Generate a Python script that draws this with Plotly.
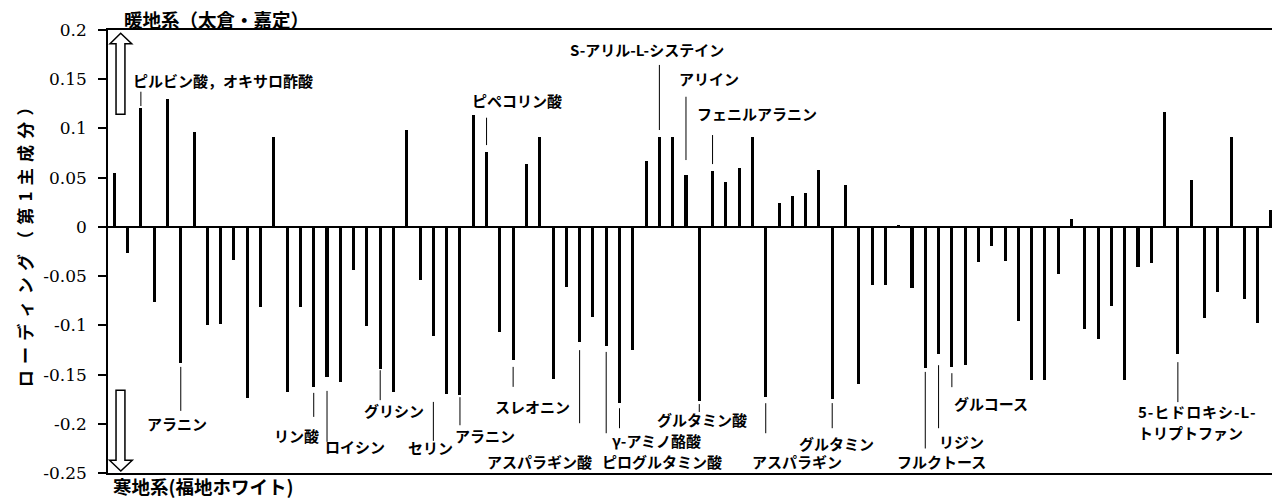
import plotly.graph_objects as go

# First principal component loadings, one bar per detected peak (left to right)
loadings = [
    0.055, -0.027, 0.121, -0.076, 0.130, -0.138, 0.096, -0.100, -0.099, -0.034,
    -0.174, -0.081, 0.091, -0.168, -0.081, -0.163, -0.152, -0.158, -0.044, -0.101,
    -0.144, -0.168, 0.098, -0.054, -0.111, -0.170, -0.171, 0.114, 0.076, -0.107,
    -0.135, 0.064, 0.091, -0.155, -0.061, -0.117, -0.092, -0.121, -0.179, -0.125,
    0.067, 0.091, 0.091, 0.053, -0.177, 0.057, 0.046, 0.060, 0.091, -0.173,
    0.024, 0.031, 0.034, 0.058, -0.175, 0.043, -0.160, -0.059, -0.059, 0.001,
    -0.062, -0.143, -0.129, -0.142, -0.140, -0.036, -0.019, -0.035, -0.096, -0.156,
    -0.156, -0.048, 0.008, -0.104, -0.114, -0.080, -0.156, -0.041, -0.037, 0.117,
    -0.129, 0.048, -0.093, -0.066, 0.091, -0.073, -0.098, 0.017,
]
peak_index = list(range(len(loadings)))

y_tick_values = [0.2, 0.15, 0.1, 0.05, 0, -0.05, -0.1, -0.15, -0.2, -0.25]
y_tick_labels = ["0.2", "0.15", "0.1", "0.05", "0", "-0.05", "-0.1", "-0.15", "-0.2", "-0.25"]

# Compound labels: text, left edge (peak units), vertical centre (loading units)
label_text = [
    "ピルビン酸，オキサロ酢酸", "ピペコリン酸", "S-アリル-L-システイン", "アリイン",
    "フェニルアラニン", "アラニン", "リン酸", "ロイシン", "グリシン", "セリン", "アラニン",
    "スレオニン", "アスパラギン酸", "γ-アミノ酪酸", "ピログルタミン酸", "グルタミン酸",
    "アスパラギン", "グルタミン", "フルクトース", "リジン", "グルコース",
    "\u200a".join("5-ヒドロキシ-L-"), "トリプトファン",
]
label_x = [1.26, 26.76, 34.1, 42.3, 43.68, 2.31, 11.84, 15.7, 18.63, 21.94, 25.45,
           28.5, 27.88, 37.28, 36.53, 40.67, 47.81, 51.35, 58.72, 61.88, 63.01,
           76.85, 76.85]
label_y = [0.149, 0.128, 0.180, 0.151, 0.1147, -0.1994, -0.2116, -0.2228, -0.1862,
           -0.2238, -0.2116, -0.1822, -0.238, -0.2167, -0.238, -0.1954, -0.238,
           -0.2197, -0.238, -0.2177, -0.1791, -0.1873, -0.2086]

# Leader lines: peak index and the loading range the line spans
leader_peak = [2, 28, 41, 43, 45, 5, 15, 16, 20, 24, 26, 30, 35, 37, 38, 44, 49, 54,
               61, 62, 63, 80]
leader_from = [0.1373, 0.1109, 0.1645, 0.1322, 0.0933, -0.1422, -0.1686, -0.1666,
               -0.1456, -0.1778, -0.1730, -0.1422, -0.1252, -0.1270, -0.1842, -0.1800,
               -0.1791, -0.1790, -0.1473, -0.1405, -0.1486, -0.1374]
leader_to = [0.1228, 0.0831, 0.0984, 0.0679, 0.0638, -0.1869, -0.1930, -0.2184,
             -0.1760, -0.2174, -0.2015, -0.1625, -0.1994, -0.2096, -0.2045, -0.1880,
             -0.2096, -0.2045, -0.2251, -0.2045, -0.1628, -0.1780]

JP_FONT = "Noto Sans CJK JP"

fig = go.Figure()
fig.add_trace(go.Bar(
    x=peak_index, y=loadings, width=0.23,
    marker=dict(color="black", line=dict(width=0)),
    showlegend=False, hoverinfo="y",
))

shapes = []
for p, a, b in zip(leader_peak, leader_from, leader_to):
    shapes.append(dict(type="line", xref="x", yref="y", x0=p, x1=p, y0=a, y1=b,
                       line=dict(color="black", width=1)))

# Hollow direction arrows along the left edge
up_arrow = ("M 0.13,0.1144 L 0.13,0.186 L -0.32,0.186 L 0.48,0.1967 "
            "L 1.31,0.186 L 0.80,0.186 L 0.80,0.1144 Z")
down_arrow = ("M 0.13,-0.166 L 0.13,-0.237 L -0.36,-0.237 L 0.49,-0.248 "
              "L 1.35,-0.237 L 0.80,-0.237 L 0.80,-0.166 Z")
for path in (up_arrow, down_arrow):
    shapes.append(dict(type="path", xref="x", yref="y", path=path,
                       fillcolor="white", line=dict(color="black", width=1.5)))

annotations = []
for t, x, y in zip(label_text, label_x, label_y):
    annotations.append(dict(text=t, x=x, y=y, xref="x", yref="y", xanchor="left",
                            yanchor="middle", showarrow=False,
                            font=dict(family=JP_FONT, size=15, color="black",
                                      weight="bold")))

annotations.append(dict(text="暖地系（太倉・嘉定）", x=0.012, y=1.0, xref="paper",
                        yref="paper", xanchor="left", yanchor="bottom", showarrow=False,
                        yshift=-4, font=dict(family=JP_FONT, size=18.5, color="black",
                                             weight="bold")))
annotations.append(dict(text="寒地系(福地ホワイト)", x=0.003, y=0.0, xref="paper",
                        yref="paper", xanchor="left", yanchor="top", showarrow=False,
                        yshift=2, font=dict(family=JP_FONT, size=18.5, color="black",
                                            weight="bold")))

y_title = "ローディング（第1主成分）"
annotations.append(dict(text="\u2009\u2006".join(y_title), x=-0.072, y=0.519,
                        xref="paper", yref="paper", xanchor="center", yanchor="middle",
                        textangle=-90, showarrow=False,
                        font=dict(family=JP_FONT, size=17, color="black", weight="bold")))

fig.update_layout(
    width=1272, height=498,
    margin=dict(l=108, r=0, t=30, b=25, pad=0),
    paper_bgcolor="white", plot_bgcolor="white",
    bargap=0,
    shapes=shapes, annotations=annotations,
    xaxis=dict(range=[-0.474, 87.08], showline=True, linecolor="black", linewidth=2,
               mirror=True, showticklabels=False, ticks="", showgrid=False,
               zeroline=False, fixedrange=True),
    yaxis=dict(range=[-0.25, 0.2], tickvals=y_tick_values, ticktext=y_tick_labels,
               ticks="outside", ticklen=8, tickwidth=1.5, tickcolor="black",
               ticklabelstandoff=8,
               showline=True, linecolor="black", linewidth=1.5, showgrid=False,
               zeroline=True, zerolinecolor="black", zerolinewidth=2,
               tickfont=dict(family="DejaVu Serif", size=17, color="black"),
               fixedrange=True),
)

fig.write_html("out.html")
